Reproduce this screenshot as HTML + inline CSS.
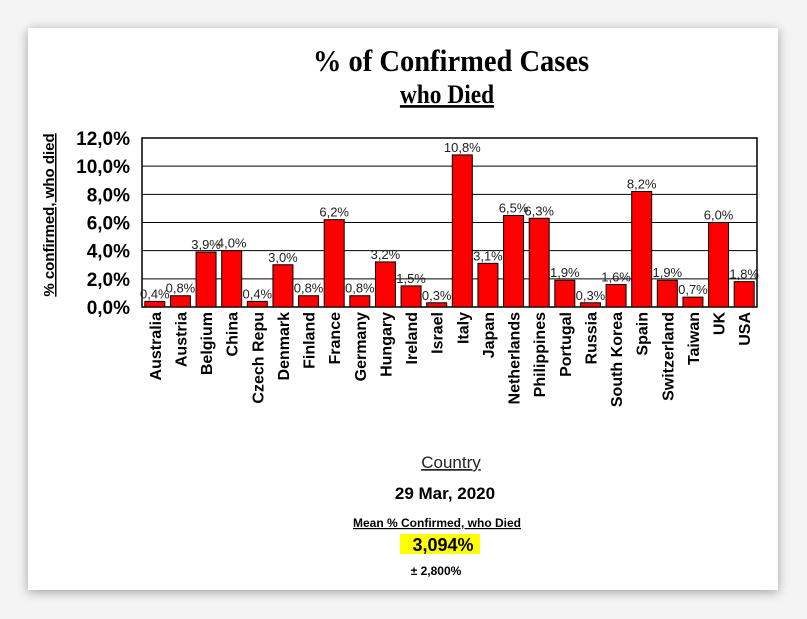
<!DOCTYPE html>
<html><head><meta charset="utf-8"><style>
body{margin:0;width:807px;height:619px;background:#f4f4f4;position:relative;overflow:hidden;font-family:"Liberation Sans",Arial,sans-serif}
#card{position:absolute;left:28px;top:28px;width:750px;height:562px;background:#fff;box-shadow:0 2px 10px rgba(0,0,0,.35)}
</style></head><body>
<div id="card"></div>
<svg id="chart" width="807" height="619" style="position:absolute;left:0;top:0">
<text transform="translate(451,71) scale(0.92,1)" text-anchor="middle" font-family="Liberation Serif,serif" font-weight="bold" font-size="31">% of Confirmed Cases</text>
<text transform="translate(447,103) scale(0.9,1)" text-anchor="middle" font-family="Liberation Serif,serif" font-weight="bold" font-size="26" text-decoration="underline">who Died</text>
<text transform="translate(54,215) rotate(-90)" text-anchor="middle" font-weight="bold" font-size="15" text-decoration="underline">% confirmed, who died</text>
<g id="grid"></g><g id="bars"></g><g id="xlabels"></g>
<text x="451" y="468" text-anchor="middle" font-size="17" text-decoration="underline" fill="#222">Country</text>
<text x="445" y="499" text-anchor="middle" font-size="17" font-weight="bold">29 Mar, 2020</text>
<text x="437" y="527" text-anchor="middle" font-size="12" font-weight="bold" text-decoration="underline">Mean % Confirmed, who Died</text>
<rect x="400" y="534" width="80" height="20" fill="#ffff00"></rect>
<text x="443" y="551" text-anchor="middle" font-size="18" font-weight="bold">3,094%</text>
<text x="436" y="575" text-anchor="middle" font-size="12" font-weight="bold">± 2,800%</text>
</svg>
<script>
const categories=["Australia","Austria","Belgium","China","Czech Repu","Denmark","Finland","France","Germany","Hungary","Ireland","Israel","Italy","Japan","Netherlands","Philippines","Portugal","Russia","South Korea","Spain","Switzerland","Taiwan","UK","USA"];
const values=[0.4,0.8,3.9,4.0,0.4,3.0,0.8,6.2,0.8,3.2,1.5,0.3,10.8,3.1,6.5,6.3,1.9,0.3,1.6,8.2,1.9,0.7,6.0,1.8];
const yTicks=[0,2,4,6,8,10,12];
const L=142,R=757,T=138,B=307,NS="http://www.w3.org/2000/svg";
const y=v=>B-(v/12)*(B-T);
const step=(R-L)/categories.length;
const x=i=>L+i*step;
const fmt=v=>v.toFixed(1).replace('.',',')+'%';
function mk(tag,attrs,parent,txt){const e=document.createElementNS(NS,tag);for(const k in attrs)e.setAttribute(k,attrs[k]);if(txt!=null)e.textContent=txt;parent.appendChild(e);return e;}
const grid=document.getElementById('grid'),bars=document.getElementById('bars'),xl=document.getElementById('xlabels');
yTicks.forEach(t=>{
 const ln=mk('line',{x1:L,x2:R,y1:y(t),y2:y(t),stroke:'#000','stroke-width':1},grid);
 
 
 const tx=mk('text',{x:L-12,y:y(t)+7,'text-anchor':'end','font-size':19,'font-weight':'bold'},grid,fmt(t));
 
 
});
const fr=mk('rect',{x:L,y:T,width:R-L,height:B-T,fill:'none',stroke:'#000','stroke-width':1.5},grid);


categories.forEach((c,i)=>{
 const cx=x(i)+step/2,v=values[i];
 const r=mk('rect',{x:cx-10,y:y(v),width:20,height:B-y(v),fill:'#ff0000',stroke:'#000','stroke-width':1},bars);
 
 
 const vl=mk('text',{x:cx,y:y(v)-3,'text-anchor':'middle','font-size':13,fill:'#222'},bars,fmt(v));
 
 
 const lb=mk('text',{transform:`translate(${cx+6},${B+5}) rotate(-90)`,'text-anchor':'end','font-size':16,'font-weight':'bold'},xl,c);
 
 
});
</script>
</body></html>
